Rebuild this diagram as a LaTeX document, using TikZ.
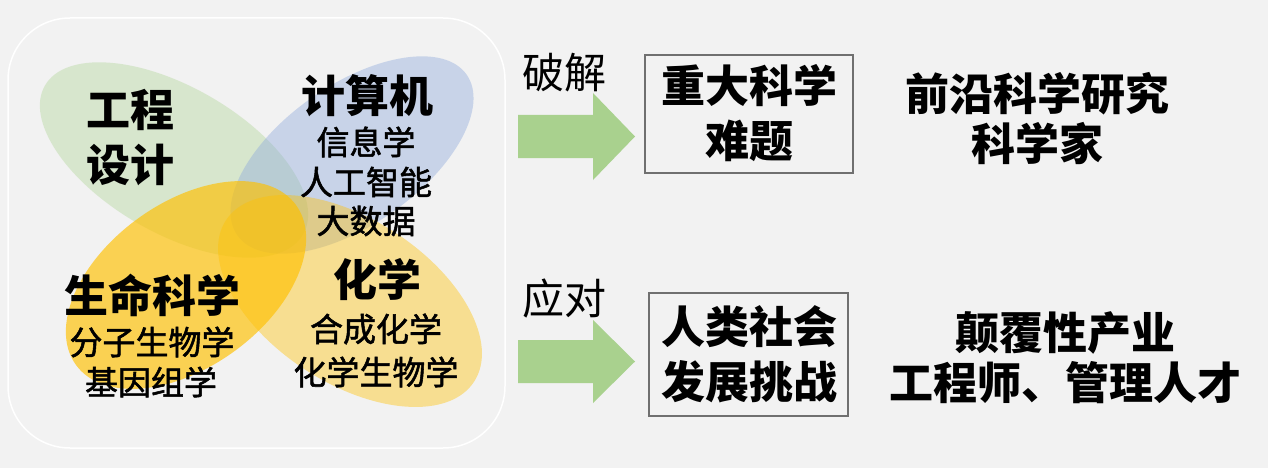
\documentclass[tikz,border=0pt]{standalone}
\usepackage{fontspec}
\setmainfont{Noto Sans CJK SC}
\newfontfamily\medcjk{Noto Sans CJK SC}[FakeBold=1.6]
\begin{document}
\begin{tikzpicture}[x=1pt,y=-1pt,
  big/.style={font=\fontsize{44}{54}\selectfont\bfseries, align=center, inner sep=0pt},
  small/.style={font=\medcjk\fontsize{33}{40}\selectfont, align=center, inner sep=0pt},
  verb/.style={font=\fontsize{42}{50}\selectfont, inner sep=0pt},
  goal/.style={font=\fontsize{44}{55}\selectfont\bfseries, align=center, inner sep=0pt},
  goalbox/.style={draw=boxgray, line width=1.4pt},
  blockarrow/.style={fill=arrowgreen, draw=none},
  petal/.style={draw=none}
]
\definecolor{bg}{HTML}{F2F2F2}
\definecolor{petalgreen}{HTML}{A9D18E}
\definecolor{petalblue}{HTML}{8FAADC}
\definecolor{petalgold}{HTML}{FFC000}
\definecolor{arrowgreen}{HTML}{A9D18E}
\definecolor{boxgray}{HTML}{707070}
\useasboundingbox (0,0) rectangle (1268,468);
\fill[bg] (0,0) rectangle (1268,468);
% rounded frame
\draw[white, line width=1.5pt, rounded corners=62pt] (8,18) rectangle (505,448);
% petals
\fill[petal, petalgreen, fill opacity=0.36, rotate around={-30:(174,160)}] (174,160) ellipse [x radius=149, y radius=73];
\fill[petal, petalblue, fill opacity=0.42, rotate around={35:(352,155)}] (352,155) ellipse [x radius=140, y radius=70];
\fill[petal, petalgold, fill opacity=0.66, rotate around={36:(186,285)}] (186,285) ellipse [x radius=136, y radius=82];
\fill[petal, petalgold, fill opacity=0.40, rotate around={-33:(350,301)}] (350,301) ellipse [x radius=148, y radius=82];
% petal texts
\node[big] (eng1) at (130,110) {工程};
\node[big] (eng2) at (130,165) {设计};
\node[big] (comp) at (367,96) {计算机};
\node[small] (comp1) at (366,142) {信息学};
\node[small] (comp2) at (366,182) {人工智能};
\node[small] (comp3) at (366,221) {大数据};
\node[big] (chem) at (377,280) {化学};
\node[small] (chem1) at (376,329) {合成化学};
\node[small] (chem2) at (376,372) {化学生物学};
\node[big] (life) at (152,295) {生命科学};
\node[small] (life1) at (152,342) {分子生物学};
\node[small] (life2) at (151,382) {基因组学};
% verbs and arrows
\node[verb] (v1) at (564,73) {破解};
\node[verb] (v2) at (564,299) {应对};
\coordinate (a1t) at (635,136.5);
\coordinate (a2t) at (635,361.5);
\fill[blockarrow] (518,115) -- (593,115) -- (593,93) -- (a1t) -- (593,180) -- (593,158) -- (518,158) -- cycle;
\fill[blockarrow] (518,340) -- (593,340) -- (593,320) -- (a2t) -- (593,403) -- (593,383) -- (518,383) -- cycle;
% goal boxes
\draw[goalbox] (645,55) rectangle (853,173);
\node[goal] (g1) at (749,113) {重大科学\\难题};
\draw[goalbox] (649,293) rectangle (848,416);
\node[goal] (g2) at (749,354) {人类社会\\发展挑战};
% outcomes
\node[big] (o1) at (1037,119) {前沿科学研究\\[-4pt]科学家};
\node[big] (o2) at (1065,358) {颠覆性产业\\[-4pt]工程师、管理人才};
\end{tikzpicture}
\end{document}
